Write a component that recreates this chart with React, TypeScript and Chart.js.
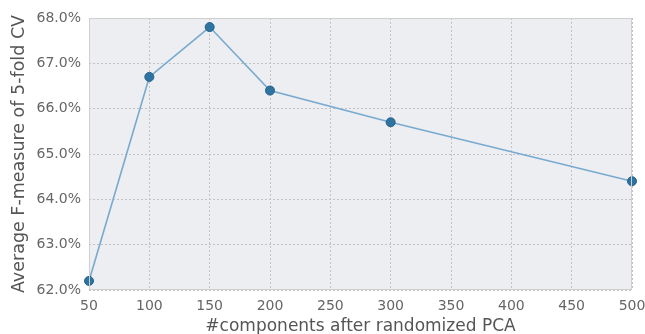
import React, { useEffect, useRef } from "react";
import { Chart, registerables } from "chart.js";

Chart.register(...registerables);

const components = [50, 100, 150, 200, 300, 500];
const fMeasure = [62.2, 66.7, 67.8, 66.4, 65.7, 64.4];
const xTicks = [50, 100, 150, 200, 250, 300, 350, 400, 450, 500];
const yTicks = [62, 63, 64, 65, 66, 67, 68];

const bgPlugin = {
  id: "plotBg",
  beforeDraw(chart: any) {
    const { ctx, chartArea } = chart;
    if (!chartArea) return;
    ctx.save();
    ctx.fillStyle = "#eceef2";
    ctx.fillRect(chartArea.left, chartArea.top, chartArea.right - chartArea.left, chartArea.bottom - chartArea.top);
    ctx.restore();
  },
  afterDraw(chart: any) {
    const { ctx, chartArea } = chart;
    ctx.save();
    ctx.strokeStyle = "#cfcfcf";
    ctx.lineWidth = 1;
    ctx.strokeRect(chartArea.left + 0.5, chartArea.top + 0.5, chartArea.right - chartArea.left - 1, chartArea.bottom - chartArea.top - 1);
    ctx.restore();
  },
};

export default function App() {
  const ref = useRef<HTMLCanvasElement>(null);
  useEffect(() => {
    if (!ref.current) return;
    const font = "'DejaVu Sans', sans-serif";
    const chart = new Chart(ref.current, {
      type: "line",
      data: {
        datasets: [
          {
            data: components.map((c, i) => ({ x: c, y: fMeasure[i] })),
            borderColor: "#78aad0",
            borderWidth: 1.6,
            pointBackgroundColor: "#2f74a0",
            pointBorderColor: "#24608a",
            pointBorderWidth: 1,
            pointRadius: 4.5,
            tension: 0,
            clip: false as any,
          },
        ],
      },
      options: {
        animation: false,
        responsive: false,
        maintainAspectRatio: false,
        layout: { padding: { left: 0, right: 13, top: 18, bottom: 0 } },
        plugins: { legend: { display: false }, tooltip: { enabled: false } },
        scales: {
          x: {
            type: "linear",
            min: 50,
            max: 500,
            afterBuildTicks: (s: any) => {
              s.ticks = xTicks.map((v) => ({ value: v }));
            },
            afterFit: (s: any) => {
              s.height = 44;
              s.paddingRight = 0;
              s.paddingLeft = 0;
            },
            grid: { color: "#c2c2c2", lineWidth: 1, drawTicks: false },
            border: { display: false, dash: [2, 2] },
            ticks: { color: "#666", font: { family: font, size: 14 }, padding: 8, maxRotation: 0 },
            title: {
              display: true,
              text: "#components after randomized PCA",
              color: "#555",
              font: { family: font, size: 17, lineHeight: 0.85 },
              padding: { top: 0, bottom: 0 },
            },
          },
          y: {
            type: "linear",
            min: 62,
            max: 68,
            afterBuildTicks: (s: any) => {
              s.ticks = yTicks.map((v) => ({ value: v }));
            },
            afterFit: (s: any) => {
              s.width = 89;
              s.paddingTop = 0;
              s.paddingBottom = 0;
            },
            grid: { color: "#c2c2c2", lineWidth: 1, drawTicks: false },
            border: { display: false, dash: [2, 2] },
            ticks: {
              color: "#666",
              font: { family: font, size: 14 },
              padding: 8,
              callback: (v: any) => Number(v).toFixed(1) + "%",
            },
            title: {
              display: true,
              text: "Average F-measure of 5-fold CV",
              color: "#555",
              font: { family: font, size: 17.5 },
              padding: { top: 9, bottom: 0 },
            },
          },
        },
      },
      plugins: [bgPlugin],
    } as any);
    return () => chart.destroy();
  }, []);
  return (
    <div style={{ position: "fixed", left: 0, top: 0, width: 645, height: 334, background: "#fff" }}>
      <canvas ref={ref} width={645} height={334} style={{ width: 645, height: 334 }} />
    </div>
  );
}
